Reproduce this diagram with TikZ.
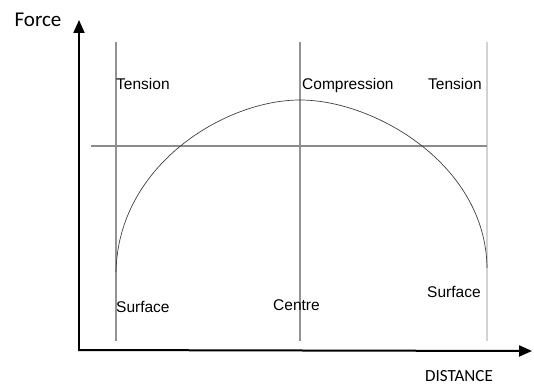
\documentclass[tikz,border=0pt]{standalone}
\usepackage{fontspec}
\setmainfont{Liberation Sans}
\newfontfamily\calibri{Carlito}
\usetikzlibrary{arrows.meta}

\tikzset{
  axis/.style={line width=2pt, -{Triangle[length=13pt, width=11pt]}},
  guide/.style={line width=1.3pt, gray!85},
  lbl/.style={font=\fontsize{15.5}{18}\selectfont, anchor=west, inner sep=0pt},
}

\begin{document}
\begin{tikzpicture}[x=1pt, y=-1pt]
  \useasboundingbox (0, 0) rectangle (534, 385);

  %% 軸
  \coordinate (origin) at (79, 350);
  \coordinate (ytip) at (79, 20);
  \coordinate (xtip) at (532, 351);
  \draw[axis] (origin) -- (ytip);
  \draw[axis] ([xshift=-1pt]origin) -- (xtip);
  \node[font=\calibri\fontsize{21}{24}\selectfont, anchor=center] (force) at (38, 20) {Force};
  \node[font=\calibri\fontsize{17}{20}\selectfont, anchor=center] (distance) at (459, 376) {DISTANCE};

  %% 縦線と横線
  \draw[guide] (116, 42) -- (116, 341);
  \draw[guide] (300, 42) -- (300, 341);
  \draw[guide, gray!35] (487, 42) -- (487, 341);
  \draw[guide, gray!90] (91, 146) -- (487, 146);

  %% 力の分布（曲線）
  \draw[line width=0.7pt, black!75] (116, 272) .. controls (118, 165) and (225, 100) .. (300, 100)
    .. controls (375, 100) and (486, 165) .. (487, 268);

  %% ラベル
  \node[lbl] (tensionL) at (116, 84) {Tension};
  \node[lbl] (compression) at (302, 85) {Compression};
  \node[lbl] (tensionR) at (428, 84) {Tension};
  \node[lbl] (surfaceL) at (116, 307) {Surface};
  \node[lbl] (centre) at (273, 305) {Centre};
  \node[lbl] (surfaceR) at (427, 292) {Surface};
\end{tikzpicture}
\end{document}
